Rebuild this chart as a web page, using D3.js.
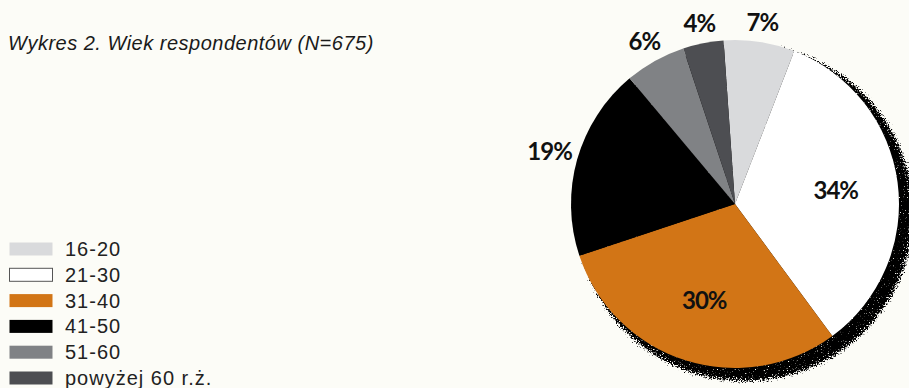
<!DOCTYPE html>
<html lang="pl">
<head>
<meta charset="utf-8">
<script src="https://cdn.jsdelivr.net/npm/d3@7/dist/d3.min.js"></script>
<style>
  html, body { margin: 0; padding: 0; background: #fcfcf7; }
  svg { display: block; }
</style>
</head>
<body>
<svg id="chart" width="909" height="388"></svg>
<script>
// Age groups of respondents and their share in percent
const categories = ["16-20", "21-30", "31-40", "41-50", "51-60", "powyżej 60 r.ż."];
const percents = [7, 34, 30, 19, 6, 4];
const sliceColors = ["#d9dadc", "#ffffff", "#d27516", "#000000", "#808285", "#4d4e52"];
const titleText = "Wykres 2. Wiek respondentów (N=675)";

const svg = d3.select("#chart");
const defs = svg.append("defs");

// Grainy drop shadow: blurred disc alpha thresholded against fine noise
const grain = defs.append("filter").attr("id", "grain")
  .attr("filterUnits", "userSpaceOnUse")
  .attr("x", -220).attr("y", -220).attr("width", 460).attr("height", 460);
grain.append("feGaussianBlur").attr("in", "SourceAlpha").attr("stdDeviation", 4).attr("result", "soft");
grain.append("feTurbulence").attr("type", "fractalNoise").attr("baseFrequency", 0.75)
  .attr("numOctaves", 2).attr("seed", 7).attr("result", "noise");
grain.append("feColorMatrix").attr("in", "noise").attr("type", "matrix")
  .attr("values", "0 0 0 0 0  0 0 0 0 0  0 0 0 0 0  1 0 0 0 0").attr("result", "speck");
grain.append("feComposite").attr("in", "speck").attr("in2", "soft").attr("operator", "arithmetic")
  .attr("k1", 0).attr("k2", 6).attr("k3", 6).attr("k4", -7);

const color = d3.scaleOrdinal().domain(categories).range(sliceColors);

// Title
svg.append("text")
  .attr("x", 8).attr("y", 50)
  .attr("font-family", "'Liberation Sans', Arial, sans-serif")
  .attr("font-style", "italic")
  .attr("font-size", 20)
  .attr("letter-spacing", 0.5)
  .attr("fill", "#1a1a1a")
  .text(titleText);

// Pie
const cx = 735, cy = 204, r = 164;
const startDeg = -4;
const pie = d3.pie().sort(null).value(d => d.value)
  .startAngle(startDeg * Math.PI / 180)
  .endAngle((360 + startDeg) * Math.PI / 180);
const rows = categories.map((c, i) => ({ name: c, value: percents[i] }));
const arcs = pie(rows);
const arc = d3.arc().innerRadius(0).outerRadius(r);

const g = svg.append("g").attr("transform", `translate(${cx},${cy})`);

g.append("circle")
  .attr("cx", 10).attr("cy", 9).attr("r", r + 7)
  .attr("fill", "#000")
  .attr("filter", "url(#grain)");

g.selectAll("path.slice").data(arcs).join("path")
  .attr("class", "slice")
  .attr("d", arc)
  .attr("fill", d => color(d.data.name));

// Percentage labels: large slices inside, small ones outside the rim
const labelFont = "Lato, 'Open Sans', sans-serif";
const labels = g.selectAll("text.pct").data(arcs).join("text")
  .attr("class", "pct")
  .attr("font-family", labelFont)
  .attr("font-weight", 700)
  .attr("font-size", 24)
  .attr("letter-spacing", -1)
  .attr("text-anchor", "middle")
  .attr("dominant-baseline", "central")
  .attr("fill", "#111")
  .text(d => d.data.value + "%");

labels.each(function(d) {
  const w = this.getComputedTextLength();
  const mid = (d.startAngle + d.endAngle) / 2;
  const inside = d.data.value >= 25;
  const rad = inside ? r * 0.62 : r + 18 + 0.25 * w * Math.abs(Math.sin(mid));
  const p = d3.arc().innerRadius(rad).outerRadius(rad).centroid(d);
  d3.select(this).attr("x", p[0]).attr("y", p[1] - 1);
});

// Legend
const legend = svg.append("g").attr("transform", "translate(9,256)");
const rowStep = 25.8;
const item = legend.selectAll("g").data(categories).join("g")
  .attr("transform", (d, i) => `translate(0,${i * rowStep})`);
item.append("rect")
  .attr("x", 0.5).attr("y", -13.5).attr("width", 43).attr("height", 13)
  .attr("fill", d => color(d))
  .attr("stroke", d => color(d) === "#ffffff" ? "#555" : "none")
  .attr("stroke-width", 1);
item.append("text")
  .attr("x", 56).attr("y", 0)
  .attr("font-family", "'Liberation Sans', Arial, sans-serif")
  .attr("font-size", 20)
  .attr("letter-spacing", 1)
  .attr("fill", "#222")
  .text(d => d);
</script>
</body>
</html>
